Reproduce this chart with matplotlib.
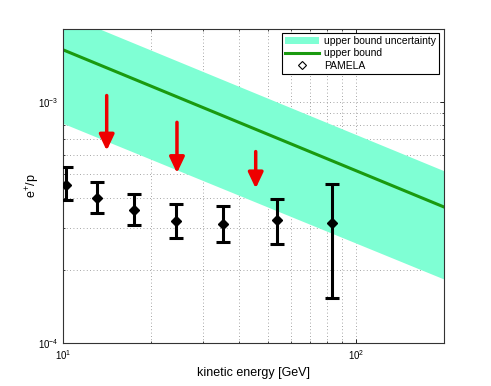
import numpy as np
import matplotlib.pyplot as plt
from matplotlib.patches import Patch
from matplotlib.lines import Line2D
from matplotlib.ticker import LogLocator, NullFormatter

plt.rcParams['font.family'] = ['Liberation Sans', 'DejaVu Sans']
plt.rcParams['mathtext.fontset'] = 'custom'
plt.rcParams['mathtext.rm'] = 'Liberation Sans'
plt.rcParams['mathtext.it'] = 'Liberation Sans'

# PAMELA e+/p points
pamela_E = [10.2, 13.1, 17.5, 24.3, 35.2, 53.6, 82.6]
pamela_val = [4.50e-4, 4.00e-4, 3.57e-4, 3.20e-4, 3.12e-4, 3.22e-4, 3.15e-4]
pamela_hi = [5.34e-4, 4.64e-4, 4.16e-4, 3.75e-4, 3.68e-4, 3.96e-4, 4.57e-4]
pamela_lo = [3.90e-4, 3.47e-4, 3.09e-4, 2.73e-4, 2.62e-4, 2.56e-4, 1.53e-4]

# upper bound and its uncertainty band (straight lines on log-log)
bound_E = [10, 200]
bound_val = [1.64e-3, 3.66e-4]
band_lo = [8.13e-4, 1.84e-4]
band_hi = [2.31e-3, 5.17e-4]

# red arrows: x, start, tip
arrow_E = [14.1, 24.5, 45.5]
arrow_top = [1.06e-3, 8.21e-4, 6.21e-4]
arrow_tip = [6.27e-4, 5.06e-4, 4.37e-4]

fig = plt.figure(figsize=(4.91, 3.86), dpi=100)
ax = fig.add_axes([0.1283, 0.1114, 0.776, 0.8135])
ax.set_xscale('log')
ax.set_yscale('log')
ax.set_axisbelow(True)

band_color = '#7fffd4'
ax.fill_between(bound_E, band_lo, band_hi, color=band_color, lw=0, zorder=1)
ax.plot(bound_E, bound_val, color='#1a9a10', lw=2.2, zorder=2)

yerr = [np.array(pamela_val) - np.array(pamela_lo),
        np.array(pamela_hi) - np.array(pamela_val)]
ax.errorbar(pamela_E, pamela_val, yerr=yerr, fmt='D', color='black',
            ms=5, lw=2.2, capsize=5, capthick=2.2, zorder=4)

for x, y0, y1 in zip(arrow_E, arrow_top, arrow_tip):
    ax.annotate('', xy=(x, y1), xytext=(x, y0),
                arrowprops=dict(arrowstyle='-|>,head_width=0.45,head_length=0.95',
                                color='#ee0000', lw=2.5, shrinkA=0, shrinkB=0),
                zorder=5)

ax.set_xlim(10, 200)
ax.set_ylim(1e-4, 2e-3)

ax.grid(True, which='both', linestyle=(0, (1, 3)), color='#888888', lw=0.6)
ax.yaxis.set_minor_locator(LogLocator(base=10, subs=np.arange(2, 10)))
ax.xaxis.set_minor_locator(LogLocator(base=10, subs=np.arange(2, 10)))
ax.xaxis.set_minor_formatter(NullFormatter())
ax.yaxis.set_minor_formatter(NullFormatter())
ax.tick_params(which='both', direction='in', top=True, right=True, labelsize=7)
ax.tick_params(which='major', length=3, width=0.6)
ax.tick_params(which='minor', length=1.5, width=0.5)
for s in ax.spines.values():
    s.set_linewidth(0.8)
    s.set_color('#333333')

ax.set_xlabel('kinetic energy [GeV]', fontsize=9, labelpad=4)
ax.set_ylabel('e$^{+}$/p', fontsize=9, labelpad=-3)

handles = [Patch(facecolor=band_color, edgecolor='none'),
           Line2D([], [], color='#1a9a10', lw=2.2),
           Line2D([], [], ls='none', marker='D', mfc='white', mec='black', ms=4.5, mew=0.8)]
labels = ['upper bound uncertainty', 'upper bound', 'PAMELA']
leg = ax.legend(handles, labels, loc='upper right', bbox_to_anchor=(0.988, 0.988),
                borderaxespad=0, fontsize=7.5, fancybox=False, framealpha=1,
                edgecolor='black', handlelength=3.2, handletextpad=0.5,
                labelspacing=0.2, borderpad=0.35)
leg.get_frame().set_linewidth(0.8)

fig.savefig('out.png', dpi=100)
